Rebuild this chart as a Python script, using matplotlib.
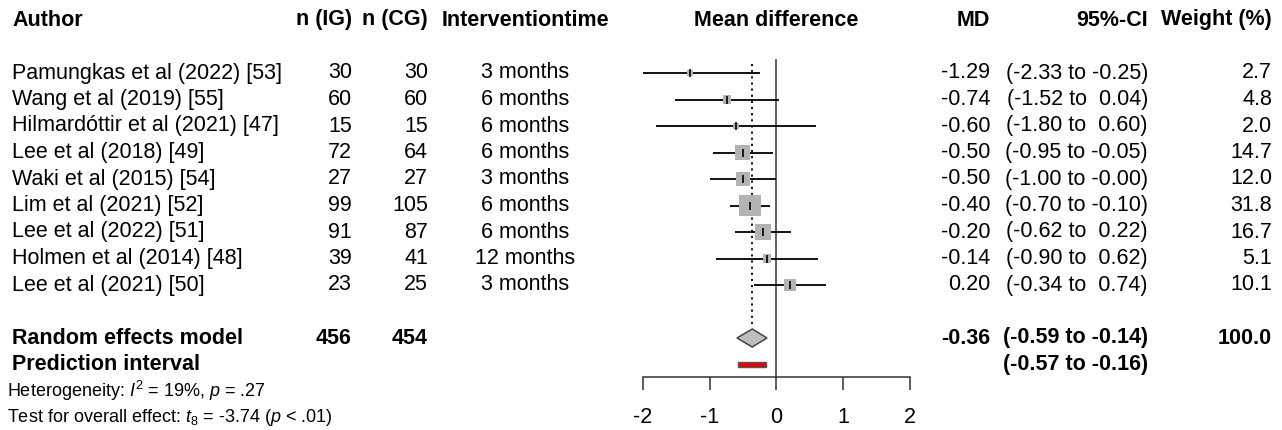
import numpy as np
import matplotlib.pyplot as plt
from matplotlib.patches import Polygon, Rectangle

plt.rcParams['font.family'] = ['Liberation Sans', 'DejaVu Sans']
plt.rcParams['axes.unicode_minus'] = False
plt.rcParams['mathtext.fontset'] = 'custom'
plt.rcParams['mathtext.rm'] = 'Liberation Sans'
plt.rcParams['mathtext.it'] = 'Liberation Sans:italic'
plt.rcParams['mathtext.bf'] = 'Liberation Sans:bold'

# study data
authors = ['Pamungkas et al (2022) [53]', 'Wang et al (2019) [55]', 'Hilmardóttir et al (2021) [47]',
           'Lee et al (2018) [49]', 'Waki et al (2015) [54]', 'Lim et al (2021) [52]',
           'Lee et al (2022) [51]', 'Holmen et al (2014) [48]', 'Lee et al (2021) [50]']
n_ig = [30, 60, 15, 72, 27, 99, 91, 39, 23]
n_cg = [30, 60, 15, 64, 27, 105, 87, 41, 25]
times = ['3 months', '6 months', '6 months', '6 months', '3 months', '6 months', '6 months', '12 months', '3 months']
md = [-1.29, -0.74, -0.60, -0.50, -0.50, -0.40, -0.20, -0.14, 0.20]
ci_lo = [-2.33, -1.52, -1.80, -0.95, -1.00, -0.70, -0.62, -0.90, -0.34]
ci_hi = [-0.25, 0.04, 0.60, -0.05, -0.0, -0.10, 0.22, 0.62, 0.74]
weight = [2.7, 4.8, 2.0, 14.7, 12.0, 31.8, 16.7, 5.1, 10.1]

# pooled results
re_n_ig, re_n_cg = 456, 454
re_md, re_lo, re_hi = -0.36, -0.59, -0.14
pi_lo, pi_hi = -0.57, -0.16
re_weight = 100.0

W, H = 1282, 430
ROW0, ROWH = 20, 26.5


def row_of(px):
    return (px - ROW0) / ROWH


fig = plt.figure(figsize=(W / 100, H / 100), dpi=100)

# text layer in pixel x / row y
tax = fig.add_axes([0, 0, 1, 1])
tax.set_xlim(0, W)
tax.set_ylim(row_of(H), row_of(0))
tax.axis('off')

# forest panel
x_left, x_right, y_axis = 642.7, 910, 377
ax = fig.add_axes([x_left / W, (H - y_axis) / H, (x_right - x_left) / W, y_axis / H])
ax.set_xlim(-2, 2)
ax.set_ylim(row_of(y_axis), row_of(0))
ax.patch.set_alpha(0)
for s in ['top', 'left', 'right']:
    ax.spines[s].set_visible(False)
ax.spines['bottom'].set_color('#333333')
ax.spines['bottom'].set_linewidth(1.1)
ax.set_yticks([])
ax.set_xticks([-2, -1, 0, 1, 2])
ax.set_xticklabels(['-2', '-1', '0', '1', '2'])
ax.tick_params(axis='x', direction='out', length=9.4, width=1.1, color='#333333',
               labelsize=15.5, pad=12)

fs = 15.5
rows = np.arange(len(authors)) + 2

# header
hy = 0
tax.text(12, hy, 'Author', fontsize=fs, fontweight='bold', va='center', ha='left')
tax.text(352, hy, 'n (IG)', fontsize=fs, fontweight='bold', va='center', ha='right')
tax.text(428, hy, 'n (CG)', fontsize=fs, fontweight='bold', va='center', ha='right')
tax.text(525, hy, 'Interventiontime', fontsize=fs, fontweight='bold', va='center', ha='center')
tax.text(776.5, hy, 'Mean difference', fontsize=fs, fontweight='bold', va='center', ha='center')
tax.text(990, hy, 'MD', fontsize=fs, fontweight='bold', va='center', ha='right')
tax.text(1148, hy, '95%-CI', fontsize=fs, fontweight='bold', va='center', ha='right')
tax.text(1272, hy, 'Weight (%)', fontsize=fs, fontweight='bold', va='center', ha='right')

# study rows
for r, a, ni, nc, t, m, lo, hi, w in zip(rows, authors, n_ig, n_cg, times, md, ci_lo, ci_hi, weight):
    tax.text(12, r, a, fontsize=fs, va='center', ha='left')
    tax.text(352, r, str(ni), fontsize=fs, va='center', ha='right')
    tax.text(428, r, str(nc), fontsize=fs, va='center', ha='right')
    tax.text(525, r, t, fontsize=fs, va='center', ha='center')
    tax.text(990, r, f'{m:.2f}', fontsize=fs, va='center', ha='right')
    tax.text(1148, r, f'({lo:5.2f} to {hi:5.2f})', fontsize=fs, va='center', ha='right')
    tax.text(1272, r, f'{w:.1f}', fontsize=fs, va='center', ha='right')

# reference lines
ax.plot([0, 0], [row_of(60), row_of(y_axis)], color='#555555', lw=1.3, zorder=1, clip_on=False)
ax.plot([re_md, re_md], [row_of(64), row_of(326)], color='black', lw=1.3, ls=(0, (1.2, 2.2)), zorder=1)

# CIs and squares
ax.hlines(rows, ci_lo, ci_hi, color='black', lw=1.3, zorder=2)
side_pt = 3.9 * np.sqrt(weight) * 0.72
ax.scatter(md, rows, s=side_pt ** 2, marker='s', color='#b3b3b3', linewidths=0, zorder=3)
ax.scatter(md, rows, s=40, marker='|', color='black', linewidths=1.2, zorder=4)

# random effects
re_row, pi_row = 12, 13
dh = 0.34
ax.add_patch(Polygon([[re_lo, re_row], [re_md, re_row - dh], [re_hi, re_row], [re_md, re_row + dh]],
                     closed=True, facecolor='#bebebe', edgecolor='#444444', lw=1.1, zorder=3))
ax.add_patch(Rectangle((pi_lo, pi_row - 0.1), pi_hi - pi_lo, 0.2,
                       facecolor='#ee0000', edgecolor='#555555', lw=1.0, zorder=3))

tax.text(12, re_row, 'Random effects model', fontsize=fs, fontweight='bold', va='center', ha='left')
tax.text(352, re_row, str(re_n_ig), fontsize=fs, fontweight='bold', va='center', ha='right')
tax.text(428, re_row, str(re_n_cg), fontsize=fs, fontweight='bold', va='center', ha='right')
tax.text(990, re_row, f'{re_md:.2f}', fontsize=fs, fontweight='bold', va='center', ha='right')
tax.text(1148, re_row, f'({re_lo:5.2f} to {re_hi:5.2f})', fontsize=fs, fontweight='bold', va='center', ha='right')
tax.text(1272, re_row, f'{re_weight:.1f}', fontsize=fs, fontweight='bold', va='center', ha='right')

tax.text(12, pi_row, 'Prediction interval', fontsize=fs, fontweight='bold', va='center', ha='left')
tax.text(1148, pi_row, f'({pi_lo:5.2f} to {pi_hi:5.2f})', fontsize=fs, fontweight='bold', va='center', ha='right')

tax.text(7, 14, r'Heterogeneity: $I^2$ = 19%, $p$ = .27', fontsize=13, va='center', ha='left')
tax.text(7, 15, r'Test for overall effect: $t_8$ = -3.74 ($p$ < .01)', fontsize=13, va='center', ha='left')

fig.savefig('out.png', dpi=100)
